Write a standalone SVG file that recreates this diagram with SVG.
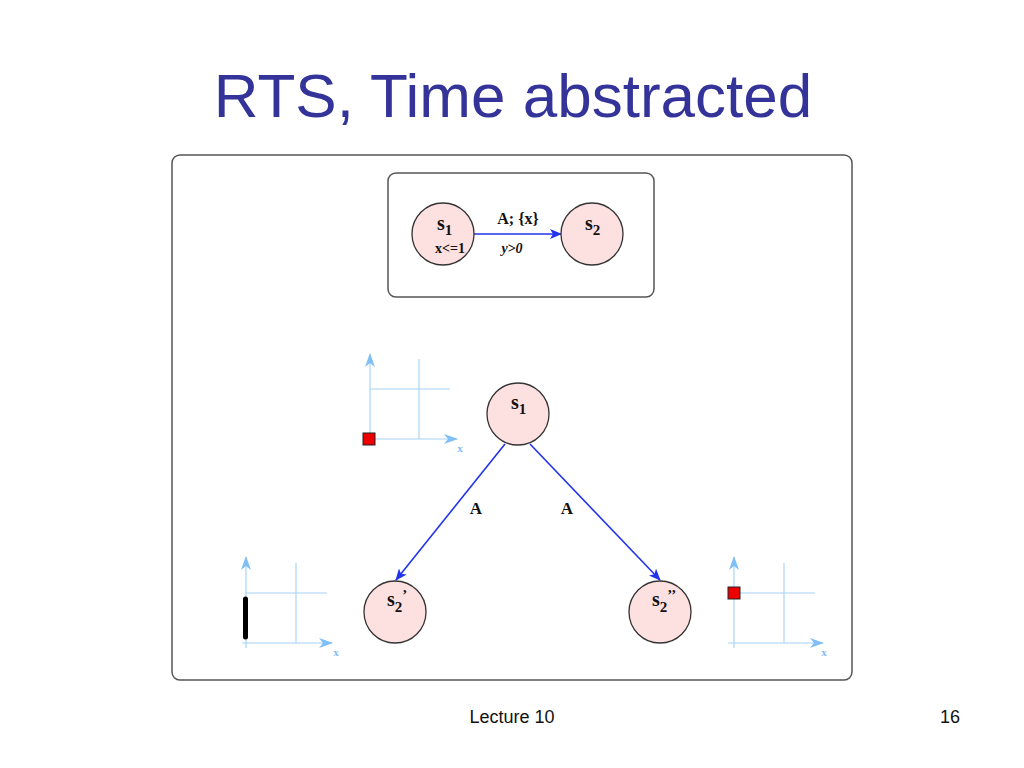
<svg xmlns="http://www.w3.org/2000/svg" width="1024" height="768" viewBox="0 0 1024 768">
<defs>
<style>
.node{fill:#fde0e0;stroke:#333;stroke-width:1.3}
.lbl{font-family:"Liberation Serif",serif;font-weight:bold;fill:#111}
.edge{stroke:#2233ee;stroke-width:1.6;fill:none}
.ax{stroke:#a8d4f8;stroke-width:1.2;fill:none}
.red{fill:#ee0000;stroke:#222;stroke-width:1}
.frame{fill:#fff;stroke:#555;stroke-width:1.5}
.axl{font-family:"Liberation Serif",serif;font-weight:bold;font-size:11px;fill:#7fbff5}
</style>
<marker id="ah" viewBox="0 0 12 10" refX="11" refY="5" markerWidth="12" markerHeight="10" markerUnits="userSpaceOnUse" orient="auto">
<path d="M0,0 L12,5 L0,10 L3,5 z" fill="#2233ee"/>
</marker>
<marker id="axh" viewBox="0 0 14 10" refX="13" refY="5" markerWidth="14" markerHeight="10" markerUnits="userSpaceOnUse" orient="auto">
<path d="M0,0 L14,5 L0,10 L4,5 z" fill="#7fbff5"/>
</marker>
</defs>
<rect width="1024" height="768" fill="#fff"/>
<text x="513" y="117" text-anchor="middle" font-family="Liberation Sans,Arial,sans-serif" font-size="62" fill="#333399">RTS, Time abstracted</text>
<rect class="frame" x="172" y="155" width="680" height="525" rx="8"/>
<rect class="frame" x="388" y="173" width="266" height="124" rx="8"/>

<g id="connectors">
<line class="edge" x1="473" y1="234" x2="561" y2="234" marker-end="url(#ah)"/>
<line class="edge" x1="505" y1="444" x2="396" y2="580" marker-end="url(#ah)"/>
<line class="edge" x1="530" y1="444" x2="660" y2="580" marker-end="url(#ah)"/>
<text class="lbl" x="518" y="224" text-anchor="middle" font-size="16">A; {x}</text>
<text class="lbl" x="512" y="253" text-anchor="middle" font-size="14" font-style="italic">y&gt;0</text>
<text class="lbl" x="476" y="514" text-anchor="middle" font-size="17">A</text>
<text class="lbl" x="567" y="514" text-anchor="middle" font-size="17">A</text>
</g>

<g id="top-s1">
<circle class="node" cx="443" cy="234" r="31"/>
<text class="lbl" x="437" y="230" font-size="20">s<tspan font-size="15" dy="5">1</tspan></text>
<text class="lbl" x="450" y="253" text-anchor="middle" font-size="14">x&lt;=1</text>
</g>
<g id="top-s2">
<circle class="node" cx="592" cy="234" r="31"/>
<text class="lbl" x="585" y="230" font-size="20">s<tspan font-size="15" dy="5">2</tspan></text>
</g>

<g id="s1">
<circle class="node" cx="518" cy="414" r="31"/>
<text class="lbl" x="511" y="409" font-size="20">s<tspan font-size="15" dy="5">1</tspan></text>
</g>
<g id="s2p">
<circle class="node" cx="395" cy="612" r="31"/>
<text class="lbl" x="387" y="606" font-size="20">s<tspan font-size="15" dy="6">2</tspan><tspan font-size="15" dx="0" dy="-12">’</tspan></text>
</g>
<g id="s2pp">
<circle class="node" cx="660" cy="612" r="31"/>
<text class="lbl" x="652" y="606" font-size="20">s<tspan font-size="15" dy="6">2</tspan><tspan font-size="15" dx="0" dy="-12">’’</tspan></text>
</g>

<g id="zone-top-left">
<line class="ax" x1="419" y1="359" x2="419" y2="439"/>
<line class="ax" x1="370" y1="389" x2="450" y2="389"/>
<line class="ax" x1="370" y1="440" x2="370" y2="354" marker-end="url(#axh)"/>
<line class="ax" x1="366" y1="439" x2="457" y2="439" marker-end="url(#axh)"/>
<rect class="red" x="363" y="433" width="12" height="12"/>
<text class="axl" x="460" y="452" text-anchor="middle">x</text>
</g>
<g id="zone-bottom-left">
<line class="ax" x1="296" y1="563" x2="296" y2="643"/>
<line class="ax" x1="246" y1="593" x2="327" y2="593"/>
<line class="ax" x1="246" y1="648" x2="246" y2="557" marker-end="url(#axh)"/>
<line class="ax" x1="242" y1="643" x2="332" y2="643" marker-end="url(#axh)"/>
<line x1="245.5" y1="599" x2="245.5" y2="637" stroke="#000" stroke-width="5" stroke-linecap="round"/>
<text class="axl" x="336" y="656" text-anchor="middle">x</text>
</g>
<g id="zone-bottom-right">
<line class="ax" x1="784" y1="563" x2="784" y2="643"/>
<line class="ax" x1="734" y1="593" x2="815" y2="593"/>
<line class="ax" x1="734" y1="648" x2="734" y2="557" marker-end="url(#axh)"/>
<line class="ax" x1="728" y1="643" x2="823" y2="643" marker-end="url(#axh)"/>
<rect class="red" x="728" y="587" width="12" height="12"/>
<text class="axl" x="824" y="656" text-anchor="middle">x</text>
</g>

<text x="512" y="723" text-anchor="middle" font-family="Liberation Sans,Arial,sans-serif" font-size="18" fill="#111">Lecture 10</text>
<text x="960" y="723" text-anchor="end" font-family="Liberation Sans,Arial,sans-serif" font-size="18" fill="#111">16</text>
</svg>
